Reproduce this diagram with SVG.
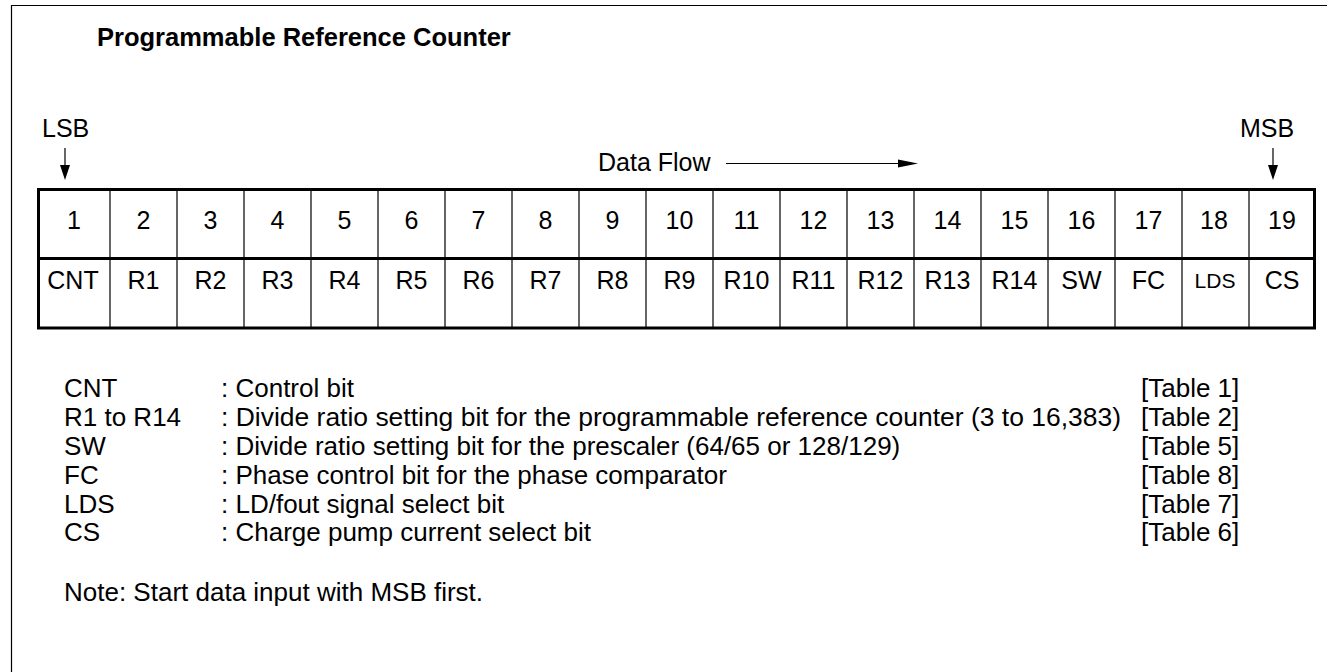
<svg xmlns="http://www.w3.org/2000/svg" width="1327" height="672" viewBox="0 0 1327 672">
<style>
text{font-family:"Liberation Sans",Arial,sans-serif;fill:#000}
.t{font-size:25.5px;font-weight:bold}
.c{font-size:25px;text-anchor:middle}
.s{font-size:25px}
.l{font-size:26px}
.thin{stroke:#000;stroke-width:1.2;fill:none}
.thick{stroke:#000;stroke-width:3;fill:none}
</style>
<rect width="1327" height="672" fill="#fff"/>
<g id="frame"><path d="M11.5,672 V5.5 H1327" class="thin" stroke-width="1.5"/></g>
<g id="title"><text class="t" x="97" y="46">Programmable Reference Counter</text></g>
<g id="lsb"><text class="s" x="42" y="137">LSB</text></g>
<g id="msb"><text class="s" x="1240" y="137">MSB</text></g>
<g id="dataflow"><text class="s" x="598" y="171">Data Flow</text></g>
<g id="connectors">
<path d="M65,148 V166" class="thin"/>
<path d="M60,165 L70,165 L65,180 z" fill="#000"/>
<path d="M1273,148 V166" class="thin"/>
<path d="M1268,165 L1278,165 L1273,180 z" fill="#000"/>
<path d="M726,163.5 H900" class="thin"/>
<path d="M898,159.5 L918,163.5 L898,167.5 z" fill="#000"/>
</g>
<g id="table">
<rect x="38.5" y="189.5" width="1276" height="138.5" class="thick"/>
<path d="M38.5,258.5 H1314.5" class="thick"/>
<path class="thin" d="M110,189.5V328M177,189.5V328M244,189.5V328M311,189.5V328M378,189.5V328M445,189.5V328M512,189.5V328M579,189.5V328M646,189.5V328M713,189.5V328M780,189.5V328M847,189.5V328M914,189.5V328M981,189.5V328M1048,189.5V328M1115,189.5V328M1182,189.5V328M1249,189.5V328"/>
<g id="nums">
<text class="c" x="74" y="229">1</text>
<text class="c" x="143.5" y="229">2</text>
<text class="c" x="210.5" y="229">3</text>
<text class="c" x="277.5" y="229">4</text>
<text class="c" x="344.5" y="229">5</text>
<text class="c" x="411.5" y="229">6</text>
<text class="c" x="478.5" y="229">7</text>
<text class="c" x="545.5" y="229">8</text>
<text class="c" x="612.5" y="229">9</text>
<text class="c" x="679.5" y="229">10</text>
<text class="c" x="746.5" y="229">11</text>
<text class="c" x="813.5" y="229">12</text>
<text class="c" x="880.5" y="229">13</text>
<text class="c" x="947.5" y="229">14</text>
<text class="c" x="1014.5" y="229">15</text>
<text class="c" x="1081.5" y="229">16</text>
<text class="c" x="1148.5" y="229">17</text>
<text class="c" x="1214" y="229">18</text>
<text class="c" x="1282" y="229">19</text>
</g>
<g id="names">
<text class="c" x="73" y="289">CNT</text>
<text class="c" x="143.5" y="289">R1</text>
<text class="c" x="210.5" y="289">R2</text>
<text class="c" x="277.5" y="289">R3</text>
<text class="c" x="344.5" y="289">R4</text>
<text class="c" x="411.5" y="289">R5</text>
<text class="c" x="478.5" y="289">R6</text>
<text class="c" x="545.5" y="289">R7</text>
<text class="c" x="612.5" y="289">R8</text>
<text class="c" x="679.5" y="289">R9</text>
<text class="c" x="746.5" y="289">R10</text>
<text class="c" x="813.5" y="289">R11</text>
<text class="c" x="880.5" y="289">R12</text>
<text class="c" x="947.5" y="289">R13</text>
<text class="c" x="1014.5" y="289">R14</text>
<text class="c" x="1081.5" y="289">SW</text>
<text class="c" x="1148.5" y="289">FC</text>
<text class="c" x="1215" y="288" style="font-size:21px">LDS</text>
<text class="c" x="1282" y="289">CS</text>
</g>
</g>
<g id="legend">
<text class="l" x="64" y="397">CNT</text>
<text class="l" x="64" y="426">R1 to R14</text>
<text class="l" x="64" y="455">SW</text>
<text class="l" x="64" y="484">FC</text>
<text class="l" x="64" y="512.5">LDS</text>
<text class="l" x="64" y="541">CS</text>
<text class="l" x="221" y="397">: Control bit</text>
<text class="l" x="221" y="426" textLength="900" lengthAdjust="spacingAndGlyphs">: Divide ratio setting bit for the programmable reference counter (3 to 16,383)</text>
<text class="l" x="221" y="455">: Divide ratio setting bit for the prescaler (64/65 or 128/129)</text>
<text class="l" x="221" y="484">: Phase control bit for the phase comparator</text>
<text class="l" x="221" y="512.5">: LD/fout signal select bit</text>
<text class="l" x="221" y="541">: Charge pump current select bit</text>
<text class="l" x="1141" y="397">[Table 1]</text>
<text class="l" x="1141" y="426">[Table 2]</text>
<text class="l" x="1141" y="455">[Table 5]</text>
<text class="l" x="1141" y="484">[Table 8]</text>
<text class="l" x="1141" y="512.5">[Table 7]</text>
<text class="l" x="1141" y="541">[Table 6]</text>
<text class="l" x="64" y="601">Note: Start data input with MSB first.</text>
</g>
</svg>
